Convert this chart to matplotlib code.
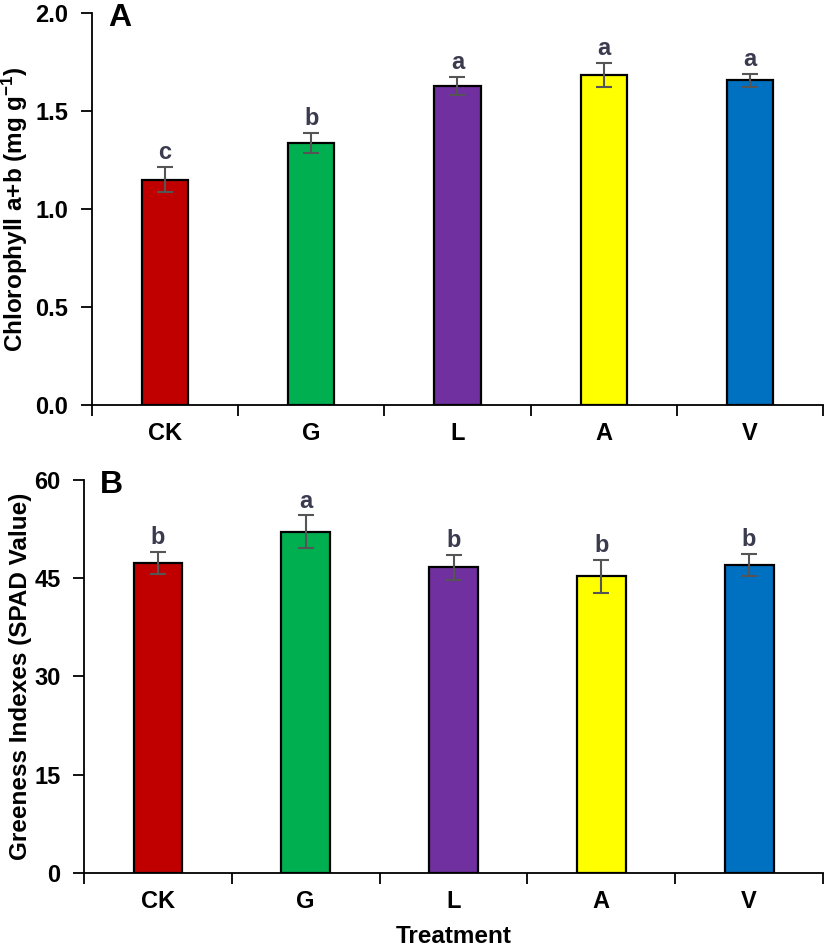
import numpy as np
import matplotlib
matplotlib.use("Agg")
import matplotlib.pyplot as plt
from matplotlib.ticker import FixedLocator, NullFormatter

plt.rcParams['font.family'] = ['Liberation Sans', 'DejaVu Sans']
plt.rcParams['font.weight'] = 'bold'
plt.rcParams['mathtext.fontset'] = 'custom'
plt.rcParams['mathtext.rm'] = 'Liberation Sans:bold'
plt.rcParams['mathtext.it'] = 'Liberation Sans:bold'
plt.rcParams['mathtext.bf'] = 'Liberation Sans:bold'

treatments = ["CK", "G", "L", "A", "V"]
bar_colors = ["#C00000", "#00B050", "#7030A0", "#FFFF00", "#0070C0"]

chl_mean = [1.15, 1.338, 1.628, 1.684, 1.656]
chl_err = [0.064, 0.051, 0.048, 0.061, 0.033]
chl_letters = ["c", "b", "a", "a", "a"]

spad_mean = [47.3, 52.1, 46.7, 45.3, 47.0]
spad_err = [1.7, 2.5, 1.9, 2.5, 1.7]
spad_letters = ["b", "a", "b", "b", "b"]

fig = plt.figure(figsize=(8.27, 9.5), dpi=100)
ax_a = fig.add_axes([0.1112, 0.5737, 0.884, 0.4126])
ax_b = fig.add_axes([0.1016, 0.0811, 0.8936, 0.4137])


def draw_panel(ax, mean, err, letters, ylim, yticks, yfmt, ylabel, label_x, tag, width):
    x = np.arange(len(treatments))
    ax.bar(x, mean, width=width, color=bar_colors, edgecolor="black",
           linewidth=1.6, zorder=2)
    ax.errorbar(x, mean, yerr=err, fmt="none", ecolor="#555555",
                elinewidth=1.5, capsize=6, capthick=1.5, zorder=3)
    for xi, m, e, lt in zip(x, mean, err, letters):
        ax.annotate(lt, (xi, m + e), xytext=(0, 2), textcoords="offset points",
                    ha="center", va="bottom", fontsize=17, color="#3b3b4f",
                    fontweight="bold")
    ax.set_xlim(-0.5, len(treatments) - 0.5)
    ax.set_ylim(*ylim)
    ax.set_yticks(yticks)
    ax.set_yticklabels([yfmt.format(v) for v in yticks])
    ax.set_xticks(x)
    ax.set_xticklabels(treatments)
    ax.xaxis.set_minor_locator(FixedLocator(np.arange(-0.5, len(treatments), 1.0)))
    ax.xaxis.set_minor_formatter(NullFormatter())
    ax.tick_params(axis="x", which="major", length=0, pad=12, labelsize=17)
    ax.tick_params(axis="x", which="minor", length=8, width=1.3, direction="out")
    ax.tick_params(axis="y", length=8, width=1.3, direction="out", pad=9,
                   labelsize=17)
    for s in ("top", "right"):
        ax.spines[s].set_visible(False)
    for s in ("left", "bottom"):
        ax.spines[s].set_linewidth(1.3)
    ax.set_ylabel(ylabel, fontsize=17.5, fontweight="bold")
    ax.yaxis.set_label_coords(label_x, 0.5)
    ax.text(0.022, 1.025, tag, transform=ax.transAxes, fontsize=23,
            fontweight="bold", ha="left", va="top")


draw_panel(ax_a, chl_mean, chl_err, chl_letters, (0, 2.0),
           [0.0, 0.5, 1.0, 1.5, 2.0], "{:.1f}",
           r"Chlorophyll a+b (mg g$^{-1}$)", -0.085, "A", 0.315)
draw_panel(ax_b, spad_mean, spad_err, spad_letters, (0, 60),
           [0, 15, 30, 45, 60], "{:d}",
           "Greeness Indexes (SPAD Value)", -0.070, "B", 0.33)
ax_b.set_xlabel("Treatment", fontsize=17.5, fontweight="bold", labelpad=9)

fig.savefig("out.png", dpi=100)
